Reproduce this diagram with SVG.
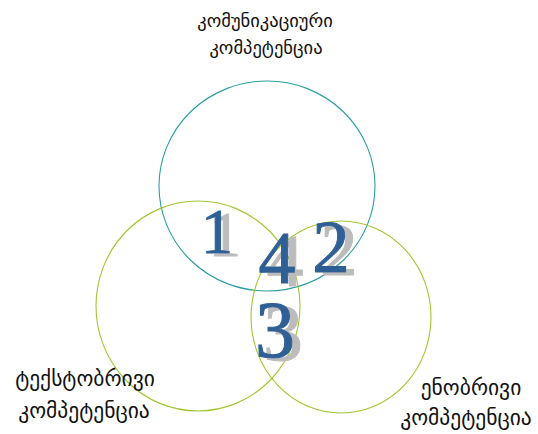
<svg xmlns="http://www.w3.org/2000/svg" width="538" height="434" viewBox="0 0 538 434">
  <defs>
    <filter id="shadow" x="-20%" y="-20%" width="160%" height="160%">
      <feOffset in="SourceAlpha" dx="8" dy="3" result="off"/>
      <feFlood flood-color="#bcbcbc" result="c"/>
      <feComposite in="c" in2="off" operator="in" result="sh"/>
      <feMerge>
        <feMergeNode in="sh"/>
        <feMergeNode in="SourceGraphic"/>
      </feMerge>
    </filter>
  </defs>
  <style>
    .teal{fill:none;stroke:#2a9fa3;stroke-width:1.1}
    .green{fill:none;stroke:#a2c62e;stroke-width:1.1}
    .lbl{font-family:"DejaVu Sans",sans-serif;fill:#111;text-anchor:middle}
    .top{font-size:18.5px}
    .bot{font-size:21.5px}
    .num{font-family:"Liberation Serif",serif;text-anchor:middle;fill:#2f6196;stroke:#2f6196;stroke-width:1;filter:url(#shadow)}
  </style>
  <g id="circle-communicative">
    <ellipse class="teal" cx="267" cy="186" rx="108" ry="105"/>
  </g>
  <g id="circle-textual">
    <ellipse class="green" cx="198" cy="306" rx="102" ry="105"/>
  </g>
  <g id="circle-linguistic">
    <ellipse class="green" cx="341" cy="317" rx="90" ry="96"/>
  </g>
  <g id="numbers">
    <text class="num" x="217" y="253" font-size="64">1</text>
    <text class="num" x="331" y="272" font-size="75">2</text>
    <text class="num" x="277" y="283" font-size="74">4</text>
    <text class="num" x="275" y="357" font-size="80">3</text>
  </g>
  <g id="label-communicative">
    <text class="lbl top" x="265" y="27">კომუნიკაციური</text>
    <text class="lbl top" x="266" y="54">კომპეტენცია</text>
  </g>
  <g id="label-textual">
    <text class="lbl bot" x="85" y="386">ტექსტობრივი</text>
    <text class="lbl bot" x="84" y="418">კომპეტენცია</text>
  </g>
  <g id="label-linguistic">
    <text class="lbl bot" x="471" y="395">ენობრივი</text>
    <text class="lbl bot" x="466" y="425">კომპეტენცია</text>
  </g>
</svg>
